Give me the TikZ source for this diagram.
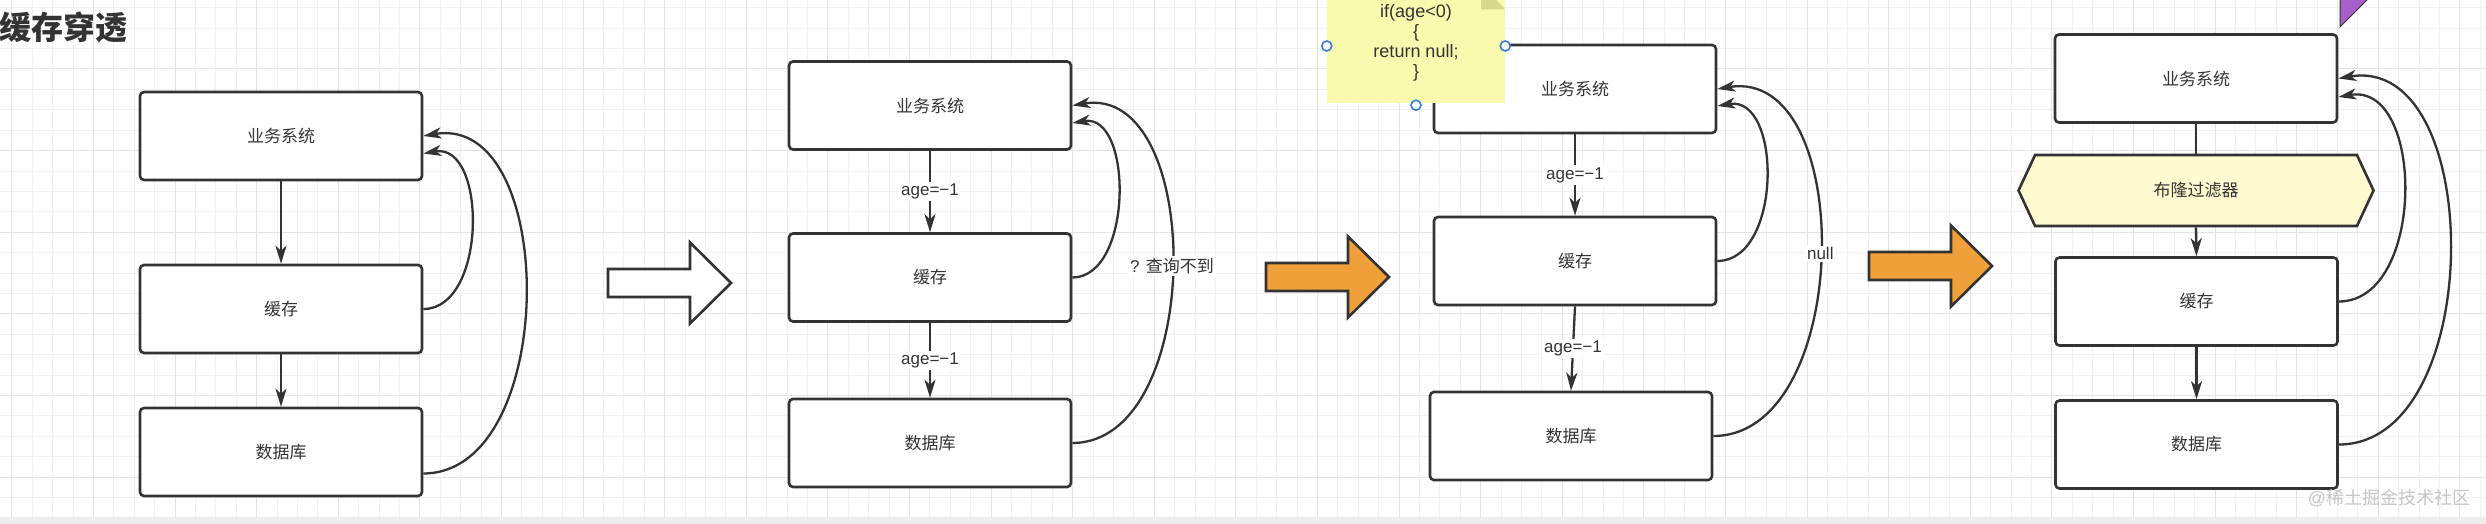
\documentclass[tikz,border=0pt]{standalone}
\usepackage{fontspec}
\setmainfont{Liberation Sans}
\newfontfamily\cjk{Noto Sans CJK SC}
\usepackage{tikz}
\usetikzlibrary{arrows.meta,shapes.symbols}

\definecolor{ink}{HTML}{333333}
\definecolor{gridminor}{HTML}{F1F1F1}
\definecolor{gridmajor}{HTML}{E3E3E3}
\definecolor{orangefill}{HTML}{F0A03A}
\definecolor{notefill}{HTML}{FAFAAF}
\definecolor{notefold}{HTML}{D8D88C}
\definecolor{bloomfill}{HTML}{FFFAD0}
\definecolor{handleblue}{HTML}{3A7BE0}
\definecolor{purplefill}{HTML}{A85FC9}

\tikzset{
    box/.style={draw=ink, line width=2.6pt, rounded corners=4pt, fill=white,
        minimum width=282pt, minimum height=88pt, text=ink,
        font=\cjk\fontsize{17}{20}\selectfont},
    bloombox/.style={signal, signal from=nowhere, signal to=east and west,
        signal pointer angle=130, draw=ink, line width=2.6pt, fill=bloomfill,
        minimum width=355pt, minimum height=71pt, text=ink,
        font=\cjk\fontsize{17}{20}\selectfont},
    flow/.style={draw=ink, line width=2.3pt, -{Stealth[length=18pt,width=11pt,inset=5pt]}},
    plain/.style={draw=ink, line width=2.3pt},
    edgelabel/.style={fill=white, text=ink, inner sep=2pt, font=\fontsize{17}{20}\selectfont},
    fatarrow/.style={draw=ink, line width=2.6pt, line join=miter},
    handle/.style={circle, draw=handleblue, line width=1.6pt, fill=white,
        minimum size=10pt, inner sep=0pt}
}

\begin{document}
\begin{tikzpicture}[x=1pt, y=-1pt]
    \useasboundingbox (0,0) rectangle (2486,524);
    \clip (0,0) rectangle (2486,524);
    \fill[white] (0,0) rectangle (2486,524);

    % grid
    \foreach \i in {0,...,121}
        \draw[gridminor, line width=1pt] ({11.8+20.4*\i},0) -- ++(0,524);
    \foreach \j in {0,...,26}
        \draw[gridminor, line width=1pt] (0,{-12.6+20.4*\j}) -- ++(2486,0);
    \foreach \i in {0,...,30}
        \draw[gridmajor, line width=1pt] ({11.8+81.6*\i},0) -- ++(0,524);
    \foreach \j in {0,...,6}
        \draw[gridmajor, line width=1pt] (0,{-12.6+81.6*\j}) -- ++(2486,0);
    \fill[gray!14] (0,517) rectangle (2486,524);

    \node[anchor=west, text=ink, font=\cjk\bfseries\fontsize{32}{36}\selectfont] (title) at (-4,27) {缓存穿透};

    % big arrows between the steps
    \foreach \x/\y/\c in {608/283/white, 1266/277/orangefill, 1869/266/orangefill}
        \draw[fatarrow, fill=\c] (\x,{\y-14}) -- ++(82,0) -- ++(0,-26.5) -- ++(41,40.5)
            -- ++(-41,40.5) -- ++(0,-26.5) -- ++(-82,0) -- cycle;

    % step 1
    \node[box] (biz1) at (281,136) {业务系统};
    \node[box] (cache1) at (281,309) {缓存};
    \node[box] (db1) at (281,452) {数据库};
    \draw[flow] (biz1.south) -- (cache1.north);
    \draw[flow] (cache1.south) -- (db1.north);
    \draw[flow] (cache1.east) .. controls +(64,0) and +(64,-11) .. ([yshift=-17.5pt]biz1.east);
    \draw[flow] ([yshift=-21.5pt]db1.east) .. controls +(136,0) and +(136,-23) .. (biz1.east);

    % step 2
    \node[box] (biz2) at (930,105.5) {业务系统};
    \node[box] (cache2) at (930,277.5) {缓存};
    \node[box] (db2) at (930,443) {数据库};
    \draw[flow] (biz2.south) -- node[edgelabel] {age=−1} (cache2.north);
    \draw[flow] (cache2.south) -- node[edgelabel] {age=−1} (db2.north);
    \draw[flow] (cache2.east) .. controls +(61,0) and +(61,-10) .. ([yshift=-17.5pt]biz2.east);
    \draw[flow] (db2.east) .. controls +(133,0) and +(133,-22)
        .. node[edgelabel, pos=0.5] {? {\cjk 查询不到}} (biz2.east);

    % step 3
    \node[box] (biz3) at (1575,89) {业务系统};
    \node[box] (cache3) at (1575,261) {缓存};
    \node[box] (db3) at (1571,436) {数据库};
    \draw[flow] (biz3.south) -- node[edgelabel] {age=−1} (cache3.north);
    \draw[flow] (cache3.south) -- node[edgelabel] {age=−1} (db3.north);
    \draw[flow] (cache3.east) .. controls +(65,0) and +(65,-11) .. ([yshift=-17pt]biz3.east);
    \draw[flow] (db3.east) .. controls +(140,0) and +(140,-23)
        .. node[edgelabel, pos=0.5] {null} (biz3.east);

    \node[fill=notefill, minimum width=178pt, minimum height=121pt, align=center, text=ink,
        font=\fontsize{18}{20}\selectfont] (note) at (1416,43)
        {if(age<0)\\ \{\\ return null;\\ \}};
    \fill[notefold] ([xshift=-24pt,yshift=-2pt]note.north east) -- ([xshift=-24pt,yshift=-27pt]note.north east)
        -- ([yshift=-27pt]note.north east) -- cycle;
    \node[handle] (hwest) at ([yshift=-3pt]note.west) {};
    \node[handle] (heast) at ([yshift=-3pt]note.east) {};
    \node[handle] (hsouth) at ([yshift=-1.5pt]note.south) {};

    % step 4
    \node[box] (biz4) at (2196,78.5) {业务系统};
    \node[bloombox] (bloom) at (2196,190.5) {布隆过滤器};
    \node[box] (cache4) at (2196.5,301.5) {缓存};
    \node[box] (db4) at (2196.5,444.5) {数据库};
    \draw[plain] (biz4.south) -- (bloom.north);
    \draw[flow] (bloom.south) -- (cache4.north);
    \draw[flow] (cache4.south) -- (db4.north);
    \draw[flow] (cache4.east) .. controls +(87,0) and +(87,-15) .. ([yshift=-18.5pt]biz4.east);
    \draw[flow] (db4.east) .. controls +(148,0) and +(148,-25) .. (biz4.east);

    \draw[fill=purplefill, draw=ink, line width=1pt] (2340,27) -- (2340,-3) -- (2370,-3) -- cycle;

    \node[text=gray!45, font=\fontsize{18}{20}\selectfont] (mark) at (2389,498) {@{\cjk 稀土掘金技术社区}};
\end{tikzpicture}
\end{document}
